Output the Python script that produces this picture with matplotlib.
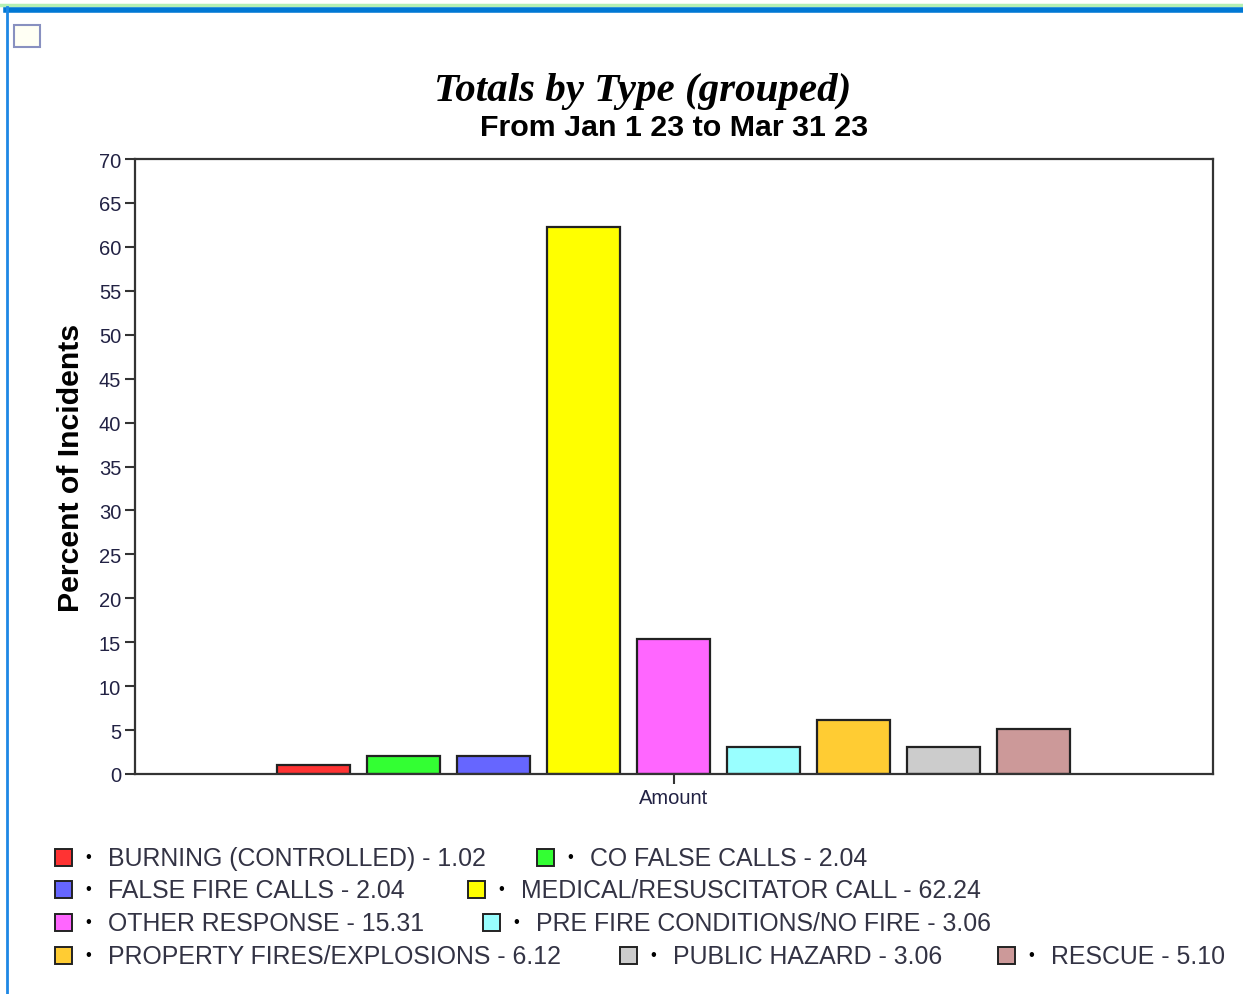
import matplotlib.pyplot as plt
from matplotlib.patches import Rectangle
from matplotlib.lines import Line2D

categories = ['BURNING (CONTROLLED)', 'CO FALSE CALLS', 'FALSE FIRE CALLS',
              'MEDICAL/RESUSCITATOR CALL', 'OTHER RESPONSE',
              'PRE FIRE CONDITIONS/NO FIRE', 'PROPERTY FIRES/EXPLOSIONS',
              'PUBLIC HAZARD', 'RESCUE']
percents = [1.02, 2.04, 2.04, 62.24, 15.31, 3.06, 6.12, 3.06, 5.10]
colors = ['#ff3333', '#33ff33', '#6666ff', '#ffff00', '#ff66ff',
          '#99ffff', '#ffcc33', '#cccccc', '#cc9999']

W, H = 1243, 995
fig = plt.figure(figsize=(W / 100, H / 100), dpi=100)
sans = 'Liberation Sans'

# window chrome
fig.add_artist(Line2D([0, 1], [1 - 5.5 / H] * 2, color='#b4f0b4', lw=2.5, transform=fig.transFigure))
fig.add_artist(Line2D([6 / W, 1], [1 - 10.5 / H] * 2, color='#0078d4', lw=4, transform=fig.transFigure))
fig.add_artist(Line2D([7 / W] * 2, [0, 1 - 8 / H], color='#1e88e5', lw=2, transform=fig.transFigure))
fig.add_artist(Rectangle((14 / W, 1 - 48 / H), 26 / W, 22 / H, transform=fig.transFigure,
                         facecolor='#fffff4', edgecolor='#8890c0', lw=1.5))

ax = fig.add_axes([135 / W, 1 - 775 / H, 1078 / W, 615 / H])
n = len(percents)
xs = [i - (n - 1) / 2 for i in range(n)]
ax.bar(xs, percents, width=0.81, color=colors, edgecolor='#222222', linewidth=1.6)
ax.set_xlim(-5.985, 5.99)
ax.set_ylim(0, 70)
ax.set_yticks(range(0, 71, 5))
ax.set_xticks([0])
ax.set_xticklabels(['Amount'], fontfamily=sans, fontsize=14.5, color='#222244')
for lab in ax.get_yticklabels():
    lab.set_fontfamily(sans)
    lab.set_fontsize(14.5)
    lab.set_color('#222244')
ax.tick_params(direction='out', length=7, width=1.5, color='#333333', pad=3)
for s in ax.spines.values():
    s.set_color('#333333')
    s.set_linewidth(1.6)
ax.set_ylabel('Percent of Incidents', fontfamily=sans, fontsize=21.8, fontweight='bold', labelpad=10)

fig.text(643 / W, 1 - 92 / H, 'Totals by Type (grouped)', ha='center', va='center',
         fontfamily='Liberation Serif', fontsize=29.5, fontweight='bold', fontstyle='italic')
fig.text(674 / W, 1 - 128 / H, 'From Jan 1 23 to Mar 31 23', ha='center', va='center',
         fontfamily=sans, fontsize=21.9, fontweight='bold')

# legend, laid out like the source (square x per entry, row y)
leg_x = [55, 537, 55, 468, 55, 483, 55, 620, 998]
leg_y = [858, 858, 890, 890, 923, 923, 956, 956, 956]
for k in range(n):
    x, y = leg_x[k], leg_y[k]
    fig.add_artist(Rectangle((x / W, 1 - (y + 8.5) / H), 17 / W, 17 / H, transform=fig.transFigure,
                             facecolor=colors[k], edgecolor='#222222', lw=1.4))
    fig.text((x + 33) / W, 1 - y / H, '•', ha='center', va='center', fontfamily=sans,
             fontsize=12, color='black')
    fig.text((x + 53) / W, 1 - (y + 1) / H, f'{categories[k]} - {percents[k]:.2f}',
             ha='left', va='center', fontfamily=sans, fontsize=17.9, color='#333344')

fig.savefig('out.png', dpi=100)
